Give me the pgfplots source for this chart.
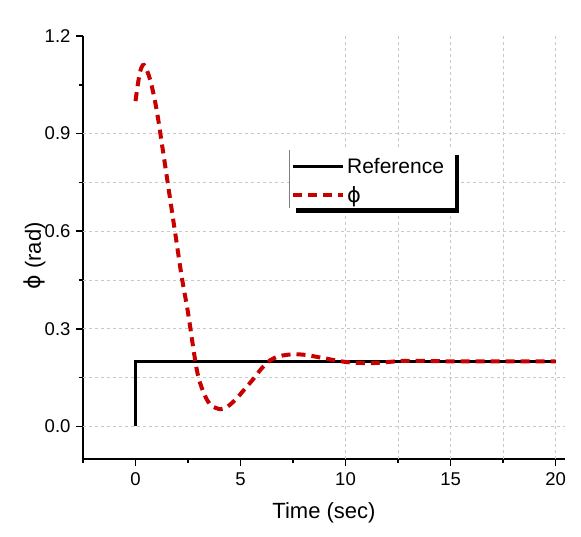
\documentclass[border=0pt]{standalone}
\usepackage{fontspec}
\setmainfont{Liberation Sans}
\newfontfamily\dejavu{DejaVu Sans}
\usepackage{pgfplots}
\pgfplotsset{compat=1.18}
\definecolor{phired}{RGB}{200,0,0}
\definecolor{gridc}{RGB}{200,200,200}
\newcommand{\phisym}{{\dejavu ϕ}}
\begin{document}
\begin{tikzpicture}
\begin{axis}[
  scale only axis, width=482pt, height=423pt,
  at={(0pt,0pt)}, anchor=south west,
  xmin=-2.5, xmax=20.45, ymin=-0.1, ymax=1.2,
  axis lines*=left,
  axis line style={line width=1.6pt, -},
  xtick={0,5,10,15,20}, minor xtick={-2.5,2.5,7.5,12.5,17.5},
  ytick={0,0.3,0.6,0.9,1.2}, minor ytick={0.15,0.45,0.75,1.05},
  tick align=outside, major tick length=7pt, minor tick length=4pt,
  every tick/.style={line width=1.6pt, black},
  /pgf/number format/assume math mode=true,
  ticklabel style={font=\fontsize{18.5}{18.5}\selectfont},
  xticklabel style={yshift=-3pt, /pgf/number format/.cd, fixed},
  yticklabel style={xshift=-2pt, /pgf/number format/.cd, fixed, fixed zerofill, precision=1},
  xlabel={Time (sec)}, ylabel={\phisym\ (rad)},
  label style={font=\fontsize{22}{22}\selectfont},
  xlabel style={at={(axis description cs:0.5,-0.128)}, anchor=center},
  ylabel style={at={(axis description cs:-0.10,0.48)}, anchor=center},
  legend style={at={(axis cs:7.4,0.832)}, anchor=north west, draw=none, fill=none,
    inner sep=0pt, row sep=8pt, font=\fontsize{21}{21}\selectfont,
    nodes={inner sep=2pt, anchor=west}},
  legend cell align=left,
  legend image code/.code={\draw[#1] (0pt,0pt) -- (50pt,0pt);},
]
% grid
\pgfplotsinvokeforeach{10,12.5,15,17.5,20}{
  \draw[gridc, dash pattern=on 3pt off 3pt, line width=0.7pt] (axis cs:#1,-0.1) -- (axis cs:#1,1.2);
}
\pgfplotsinvokeforeach{0,0.15,0.3,0.45,0.6,0.75,0.9}{
  \draw[gridc, dash pattern=on 3pt off 3pt, line width=0.7pt] (axis cs:-2.5,#1) -- (axis cs:20.45,#1);
}
% legend box
\fill[white] (axis cs:7.33,0.849) rectangle (axis cs:15.19,0.671);
\draw[gray, line width=0.8pt] (axis cs:7.33,0.849) -- (axis cs:7.33,0.671);
\fill[black] (axis cs:15.19,0.834) rectangle (axis cs:15.38,0.655);
\fill[black] (axis cs:7.62,0.671) rectangle (axis cs:15.38,0.655);

\addplot[black, line width=3.2pt, line join=miter] coordinates {(0,0) (0,0.2) (20,0.2)};
\addlegendentry{Reference}
\addplot[phired, line width=4pt, dash pattern=on 9pt off 6pt, smooth, tension=0.5] coordinates {
(0,1.0) (0.2,1.085) (0.4,1.111) (0.7,1.065) (1.0,0.975) (1.3,0.85) (1.6,0.72) (1.9,0.59)
(2.2,0.46) (2.5,0.35) (2.8,0.22) (3.0,0.15) (3.3,0.095) (3.6,0.065) (4.05,0.053) (4.4,0.062)
(4.8,0.085) (5.2,0.115) (5.6,0.145) (6.0,0.178) (6.4,0.203) (6.8,0.215) (7.2,0.22)
(7.65,0.222) (8.2,0.219) (8.7,0.213) (9.2,0.207) (9.7,0.201) (10.2,0.197) (10.8,0.195)
(11.4,0.195) (12.0,0.198) (12.6,0.201) (13.2,0.202) (14.0,0.201) (15,0.2) (16,0.2)
(18,0.2) (20,0.2)};
\addlegendentry{\phisym}
\end{axis}
\path (-83pt,-78pt) rectangle (498pt,459pt);
\end{tikzpicture}
\end{document}
